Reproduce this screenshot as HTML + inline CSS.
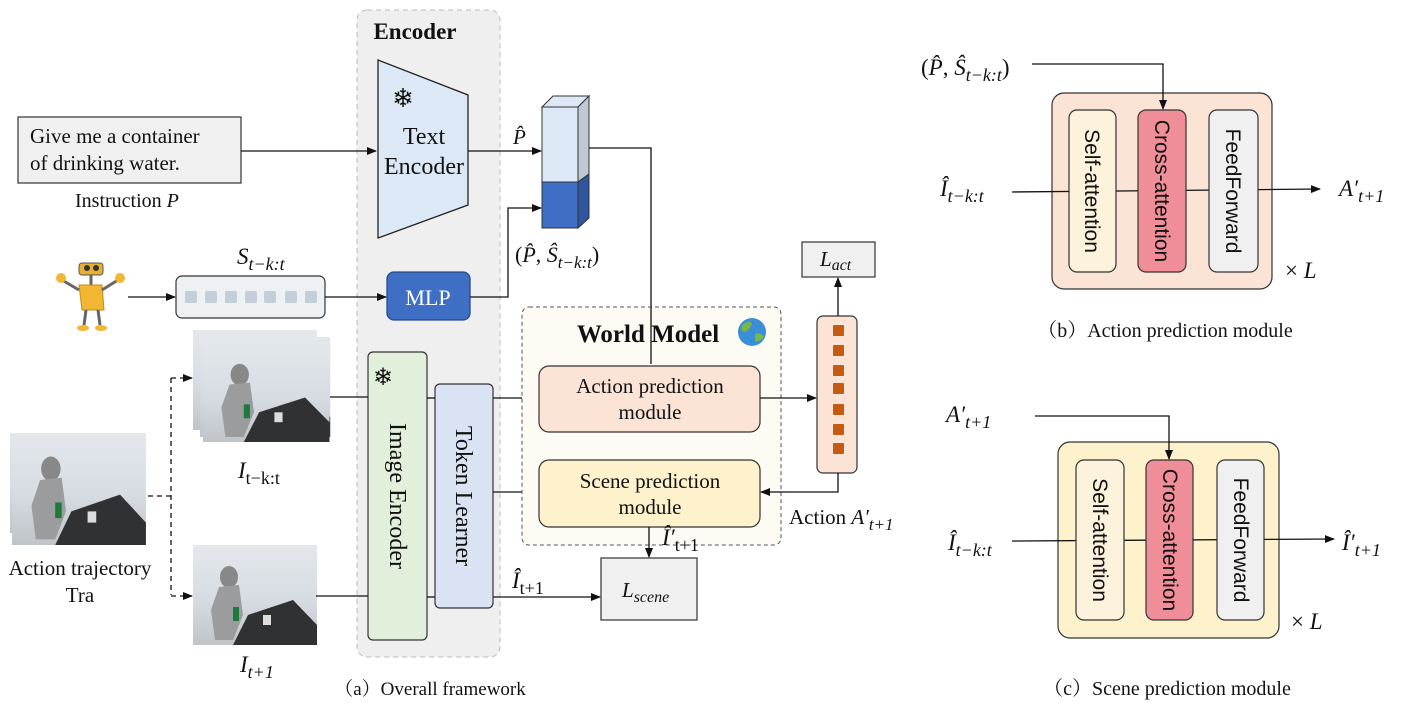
<!DOCTYPE html>
<html><head><meta charset="utf-8"><style>
html,body{margin:0;padding:0;background:#fff}
svg{display:block}
text{font-family:"Liberation Serif","Noto Serif CJK SC",serif;fill:#111}
.s{font-family:"Liberation Sans","DejaVu Sans",sans-serif}
.i{font-style:italic}
</style></head><body>
<svg width="1406" height="708" viewBox="0 0 1406 708" xmlns="http://www.w3.org/2000/svg">
<defs>
<marker id="a" markerWidth="10" markerHeight="8" refX="9" refY="4" orient="auto" markerUnits="userSpaceOnUse"><path d="M0,0 L10,4 L0,8 z" fill="#111"/></marker>
<linearGradient id="img" x1="0" y1="0" x2="0" y2="1"><stop offset="0" stop-color="#e4e8ec"/><stop offset="0.55" stop-color="#d6dce2"/><stop offset="1" stop-color="#bfc4c8"/></linearGradient>
<g id="robotimg">
<rect x="0" y="0" width="124" height="100" fill="url(#img)"/>
<path d="M55,70 L100,55 L124,80 L124,100 L40,100 z" fill="#2f3133"/>
<ellipse cx="36" cy="32" rx="9" ry="11" fill="#888"/>
<path d="M26,42 L46,40 L50,70 L40,95 L22,95 L18,65 z" fill="#9a9c9e"/>
<rect x="40" y="62" width="6" height="14" fill="#1d7a3a"/>
<rect x="70" y="70" width="8" height="10" fill="#ddd"/>
</g>
</defs>

<rect x="357" y="10" width="143" height="647" rx="10" fill="#efefef" stroke="#bbb" stroke-dasharray="5,4"/>
<text x="415" y="39" font-size="23" font-weight="bold" text-anchor="middle">Encoder</text>
<polygon points="378,60 468,95 468,205 378,238" fill="#dce8f5" stroke="#222" stroke-width="1.3"/>
<text x="403" y="107" font-size="26" text-anchor="middle">❄</text>
<text x="424" y="144" font-size="24" text-anchor="middle">Text</text>
<text x="424" y="174" font-size="24" text-anchor="middle">Encoder</text>

<rect x="18" y="117" width="223" height="66" fill="#f0f0f0" stroke="#333" stroke-width="1.2"/>
<text x="30" y="143" font-size="21">Give me a container</text>
<text x="30" y="170" font-size="21">of drinking water.</text>
<text x="75" y="207" font-size="20">Instruction <tspan class="i">P</tspan></text>
<line x1="241" y1="151" x2="376" y2="151" stroke="#111" stroke-width="1.3" marker-end="url(#a)"/>

<text x="513" y="144" font-size="21" class="i">P̂</text>
<line x1="468" y1="151" x2="541" y2="151" stroke="#111" stroke-width="1.3" marker-end="url(#a)"/>
<polygon points="542,107 553,96 589,96 578,107" fill="#dce8f5" stroke="#333"/>
<polygon points="578,107 589,96 589,174 578,182" fill="#bfc9d4" stroke="#333"/>
<polygon points="578,182 589,174 589,218 578,228" fill="#2f569e" stroke="#333"/>
<rect x="542" y="107" width="36" height="75" fill="#dce8f5" stroke="#333"/>
<rect x="542" y="182" width="36" height="46" fill="#3f6fc4" stroke="#333"/>
<polyline points="589,148 651,148 651,364" fill="none" stroke="#111" stroke-width="1.3" marker-end="url(#a)"/>
<text x="515" y="262" font-size="22">(<tspan class="i">P̂</tspan>, <tspan class="i">Ŝ</tspan><tspan class="i" font-size="17" dy="6">t−k:t</tspan><tspan dy="-6">)</tspan></text>

<rect x="387" y="272" width="83" height="48" rx="7" fill="#3f6fc4" stroke="#2a4b8a" stroke-width="1.3"/>
<text x="428" y="305" font-size="22" text-anchor="middle" style="fill:#fff">MLP</text>
<polyline points="470,297 508,297 508,208 541,208" fill="none" stroke="#111" stroke-width="1.3" marker-end="url(#a)"/>

<g>
<rect x="79" y="263" width="24" height="12" rx="3" fill="#e8b030" stroke="#555"/>
<circle cx="87" cy="268" r="3" fill="#333"/><circle cx="96" cy="268" r="3" fill="#333"/>
<line x1="91" y1="275" x2="91" y2="285" stroke="#666" stroke-width="3"/>
<path d="M79,285 L102,285 L104,310 L82,310 z" fill="#f2b632" stroke="#c48a10"/>
<line x1="79" y1="290" x2="62" y2="280" stroke="#666" stroke-width="3"/>
<line x1="102" y1="290" x2="118" y2="280" stroke="#666" stroke-width="3"/>
<circle cx="61" cy="278" r="5" fill="#f2b632"/><circle cx="120" cy="278" r="5" fill="#f2b632"/>
<line x1="86" y1="310" x2="84" y2="325" stroke="#666" stroke-width="3"/>
<line x1="98" y1="310" x2="100" y2="325" stroke="#666" stroke-width="3"/>
<ellipse cx="83" cy="328" rx="6" ry="3" fill="#f2b632"/><ellipse cx="101" cy="328" rx="6" ry="3" fill="#f2b632"/>
</g>
<line x1="128" y1="297" x2="175" y2="297" stroke="#111" stroke-width="1.3" marker-end="url(#a)"/>
<rect x="176" y="276" width="149" height="42" rx="6" fill="#eef1f4" stroke="#333" stroke-width="1.2"/>
<g fill="#c3ced8">
<rect x="185" y="291" width="12" height="12" rx="2"/><rect x="205" y="291" width="12" height="12" rx="2"/><rect x="225" y="291" width="12" height="12" rx="2"/><rect x="245" y="291" width="12" height="12" rx="2"/><rect x="264" y="291" width="12" height="12" rx="2"/><rect x="285" y="291" width="12" height="12" rx="2"/><rect x="305" y="291" width="12" height="12" rx="2"/>
</g>
<line x1="325" y1="297" x2="386" y2="297" stroke="#111" stroke-width="1.3" marker-end="url(#a)"/>
<text x="237" y="264" font-size="23" class="i">S<tspan font-size="18" dy="6">t−k:t</tspan></text>

<use href="#robotimg" transform="translate(193,330)"/>
<use href="#robotimg" transform="translate(200,337) scale(1.05,1.0)"/>
<use href="#robotimg" transform="translate(203,343) scale(1.02,0.99)"/>
<text x="238" y="478" font-size="23" class="i">I<tspan font-size="18" dy="6" font-style="normal">t−k:t</tspan></text>
<use href="#robotimg" transform="translate(10,433)"/>
<use href="#robotimg" transform="translate(14,437)"/>
<use href="#robotimg" transform="translate(12,433) scale(1.08,1.12)"/>
<text x="80" y="575" font-size="21" text-anchor="middle">Action trajectory</text>
<text x="80" y="602" font-size="21" text-anchor="middle">Tra</text>
<use href="#robotimg" transform="translate(193,545)"/>
<text x="240" y="672" font-size="23" class="i">I<tspan font-size="18" dy="6">t+1</tspan></text>
<polyline points="148,496 171,496" fill="none" stroke="#111" stroke-width="1.3" stroke-dasharray="5,4"/>
<polyline points="171,378 171,595" fill="none" stroke="#111" stroke-width="1.3" stroke-dasharray="5,4"/>
<line x1="171" y1="378" x2="192" y2="378" stroke="#111" stroke-width="1.3" stroke-dasharray="5,4" marker-end="url(#a)"/>
<line x1="171" y1="596" x2="192" y2="596" stroke="#111" stroke-width="1.3" stroke-dasharray="5,4" marker-end="url(#a)"/>

<rect x="368" y="352" width="59" height="288" rx="5" fill="#e2efda" stroke="#333" stroke-width="1.2"/>
<text x="383" y="385" font-size="24" text-anchor="middle">❄</text>
<text transform="translate(390,496) rotate(90)" font-size="24" text-anchor="middle">Image Encoder</text>
<rect x="435" y="384" width="58" height="224" rx="5" fill="#dae3f3" stroke="#333" stroke-width="1.2"/>
<text transform="translate(456,496) rotate(90)" font-size="24" text-anchor="middle">Token Learner</text>
<line x1="330" y1="397" x2="368" y2="397" stroke="#111" stroke-width="1.3"/>
<line x1="316" y1="596" x2="368" y2="596" stroke="#111" stroke-width="1.3"/>
<line x1="427" y1="398" x2="435" y2="398" stroke="#111" stroke-width="1.3"/>
<line x1="427" y1="597" x2="435" y2="597" stroke="#111" stroke-width="1.3"/>
<line x1="493" y1="398" x2="538" y2="398" stroke="#111" stroke-width="1.3" marker-end="url(#a)"/>
<line x1="493" y1="492" x2="538" y2="492" stroke="#111" stroke-width="1.3" marker-end="url(#a)"/>
<line x1="493" y1="597" x2="600" y2="597" stroke="#111" stroke-width="1.3" marker-end="url(#a)"/>
<text x="512" y="588" font-size="23" class="i">Î<tspan font-size="18" dy="6" font-style="normal">t+1</tspan></text>

<rect x="522" y="307" width="259" height="238" rx="7" fill="#fdfbf4" stroke="#555" stroke-dasharray="4,3"/>
<text x="648" y="342" font-size="25" font-weight="bold" text-anchor="middle">World Model</text>
<circle cx="752" cy="332" r="14" fill="#3a8fd6"/>
<path d="M742,325 q6,-5 10,-2 q-2,7 -7,9 q-5,0 -3,-7z M755,334 q6,-2 9,3 q-4,5 -9,4z" fill="#7ab648"/>
<line x1="651" y1="307" x2="651" y2="364" stroke="#111" stroke-width="1.3"/>
<rect x="539" y="366" width="221" height="66" rx="10" fill="#fbe3d6" stroke="#333" stroke-width="1.2"/>
<text x="650" y="393" font-size="21" text-anchor="middle">Action prediction</text>
<text x="650" y="419" font-size="21" text-anchor="middle">module</text>
<rect x="539" y="460" width="221" height="67" rx="10" fill="#fdf2cc" stroke="#333" stroke-width="1.2"/>
<text x="650" y="488" font-size="21" text-anchor="middle">Scene prediction</text>
<text x="650" y="514" font-size="21" text-anchor="middle">module</text>

<line x1="760" y1="398" x2="816" y2="398" stroke="#111" stroke-width="1.3" marker-end="url(#a)"/>
<rect x="817" y="316" width="40" height="157" rx="6" fill="#fbe3d6" stroke="#333" stroke-width="1.2"/>
<g fill="#c55a11">
<rect x="833" y="325" width="11" height="11" rx="1"/><rect x="833" y="345" width="11" height="11" rx="1"/><rect x="833" y="365" width="11" height="11" rx="1"/><rect x="833" y="383" width="11" height="11" rx="1"/><rect x="833" y="404" width="11" height="11" rx="1"/><rect x="833" y="424" width="11" height="11" rx="1"/><rect x="833" y="443" width="11" height="11" rx="1"/>
</g>
<polyline points="838,473 838,492 761,492" fill="none" stroke="#111" stroke-width="1.3" marker-end="url(#a)"/>
<text x="789" y="524" font-size="21">Action <tspan class="i">A′</tspan><tspan class="i" font-size="17" dy="6">t+1</tspan></text>
<line x1="838" y1="316" x2="838" y2="278" stroke="#111" stroke-width="1.3" marker-end="url(#a)"/>
<rect x="802" y="242" width="73" height="35" fill="#f0f0f0" stroke="#333" stroke-width="1.2"/>
<text x="820" y="266" font-size="21" class="i">L<tspan font-size="16" dy="4">act</tspan></text>

<line x1="649" y1="527" x2="649" y2="557" stroke="#111" stroke-width="1.3" marker-end="url(#a)"/>
<rect x="601" y="558" width="96" height="62" fill="#f0f0f0" stroke="#333" stroke-width="1.2"/>
<text x="662" y="545" font-size="23" class="i">Î′<tspan font-size="18" dy="6" font-style="normal">t+1</tspan></text>
<text x="622" y="597" font-size="21" class="i">L<tspan font-size="16" dy="5">scene</tspan></text>

<text x="430" y="695" font-size="19" text-anchor="middle">（a）Overall framework</text>

<rect x="1052" y="93" width="220" height="196" rx="12" fill="#fbe3d6" stroke="#333" stroke-width="1.2"/>
<line x1="1012" y1="192" x2="1320" y2="189" stroke="#111" stroke-width="1.3" marker-end="url(#a)"/>
<rect x="1069" y="110" width="47" height="162" rx="8" fill="#fdf2dc" stroke="#333" stroke-width="1.2"/>
<rect x="1138" y="110" width="48" height="162" rx="8" fill="#ef8e98" stroke="#333" stroke-width="1.2"/>
<rect x="1209" y="110" width="49" height="162" rx="8" fill="#f0f0f0" stroke="#333" stroke-width="1.2"/>
<text class="s" transform="translate(1085,191) rotate(90)" font-size="21" text-anchor="middle">Self-attention</text>
<text class="s" transform="translate(1155,191) rotate(90)" font-size="21" text-anchor="middle">Cross-attention</text>
<text class="s" transform="translate(1226,191) rotate(90)" font-size="21" text-anchor="middle">FeedForward</text>
<polyline points="1032,64 1163,64 1163,109" fill="none" stroke="#111" stroke-width="1.3" marker-end="url(#a)"/>
<text x="921" y="75" font-size="23">(<tspan class="i">P̂</tspan>, <tspan class="i">Ŝ</tspan><tspan class="i" font-size="18" dy="6">t−k:t</tspan><tspan dy="-6">)</tspan></text>
<text x="940" y="196" font-size="23" class="i">Î<tspan font-size="18" dy="6">t−k:t</tspan></text>
<text x="1339" y="196" font-size="23" class="i">A′<tspan font-size="18" dy="6">t+1</tspan></text>
<text x="1285" y="278" font-size="23">× <tspan class="i">L</tspan></text>
<text x="1165" y="337" font-size="20" text-anchor="middle">（b）Action prediction module</text>

<rect x="1058" y="442" width="221" height="196" rx="12" fill="#fdf2cc" stroke="#333" stroke-width="1.2"/>
<line x1="1012" y1="541" x2="1334" y2="539" stroke="#111" stroke-width="1.3" marker-end="url(#a)"/>
<rect x="1076" y="460" width="48" height="160" rx="8" fill="#fdf2dc" stroke="#333" stroke-width="1.2"/>
<rect x="1146" y="460" width="47" height="160" rx="8" fill="#ef8e98" stroke="#333" stroke-width="1.2"/>
<rect x="1217" y="460" width="47" height="160" rx="8" fill="#f0f0f0" stroke="#333" stroke-width="1.2"/>
<text class="s" transform="translate(1093,540) rotate(90)" font-size="21" text-anchor="middle">Self-attention</text>
<text class="s" transform="translate(1163,540) rotate(90)" font-size="21" text-anchor="middle">Cross-attention</text>
<text class="s" transform="translate(1234,540) rotate(90)" font-size="21" text-anchor="middle">FeedForward</text>
<polyline points="1035,416 1169,416 1169,459" fill="none" stroke="#111" stroke-width="1.3" marker-end="url(#a)"/>
<text x="946" y="422" font-size="23" class="i">A′<tspan font-size="18" dy="6">t+1</tspan></text>
<text x="948" y="550" font-size="23" class="i">Î<tspan font-size="18" dy="6">t−k:t</tspan></text>
<text x="1342" y="550" font-size="23" class="i">Î′<tspan font-size="18" dy="6">t+1</tspan></text>
<text x="1291" y="629" font-size="23">× <tspan class="i">L</tspan></text>
<text x="1167" y="695" font-size="20" text-anchor="middle">（c）Scene prediction module</text>
</svg>
</body></html>
